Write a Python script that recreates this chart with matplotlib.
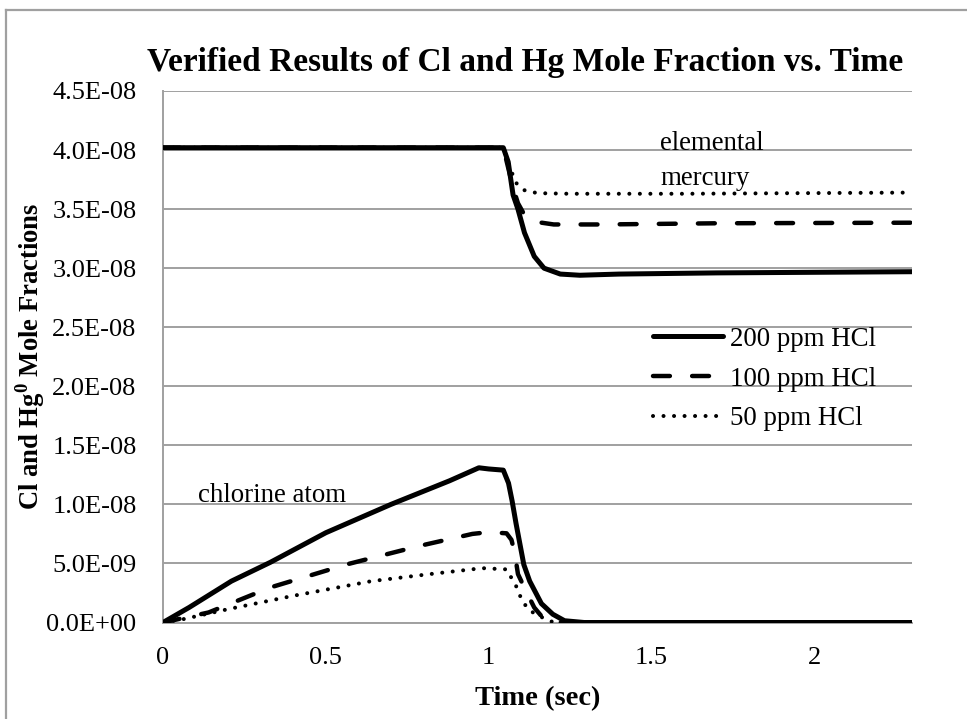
import numpy as np
import matplotlib
matplotlib.use("Agg")
import matplotlib.pyplot as plt
from matplotlib.lines import Line2D

plt.rcParams["font.family"] = ["Liberation Serif", "DejaVu Serif"]
plt.rcParams["mathtext.fontset"] = "custom"
plt.rcParams["mathtext.rm"] = "Liberation Serif"
plt.rcParams["mathtext.bf"] = "Liberation Serif:bold"

# elemental mercury, mole fraction (E-08) vs time (sec)
hg_200_t = [0, 1.045, 1.06, 1.075, 1.09, 1.11, 1.14, 1.17, 1.22, 1.28, 1.4, 1.7, 2.3]
hg_200_v = [4.02, 4.02, 3.9, 3.62, 3.5, 3.3, 3.1, 3.0, 2.95, 2.94, 2.95, 2.96, 2.97]
hg_100_t = [0, 1.045, 1.06, 1.075, 1.09, 1.11, 1.15, 1.2, 1.35, 1.7, 2.3]
hg_100_v = [4.02, 4.02, 3.85, 3.68, 3.55, 3.45, 3.39, 3.37, 3.37, 3.38, 3.385]
hg_50_t = [0, 1.045, 1.065, 1.085, 1.11, 1.15, 1.25, 1.6, 2.3]
hg_50_v = [4.02, 4.02, 3.85, 3.72, 3.66, 3.635, 3.63, 3.63, 3.64]

# chlorine atom, mole fraction (E-09) vs time (sec)
cl_200_t = [0, 0.08, 0.21, 0.33, 0.5, 0.7, 0.88, 0.97, 1.0, 1.045, 1.061, 1.072,
            1.084, 1.108, 1.126, 1.162, 1.197, 1.233, 1.293, 2.3]
cl_200_v = [0, 1.27, 3.5, 5.1, 7.6, 10.0, 12.0, 13.1, 13.0, 12.9, 11.8, 10.3,
            8.4, 4.9, 3.5, 1.6, 0.7, 0.15, 0, 0]
cl_100_t = [0, 0.14, 0.33, 0.567, 0.79, 0.95, 1.0, 1.055, 1.07, 1.08, 1.09,
            1.114, 1.14, 1.17, 1.21, 2.3]
cl_100_v = [0, 0.85, 2.97, 4.94, 6.5, 7.5, 7.65, 7.55, 7.0, 5.9, 4.1,
            2.7, 1.27, 0.28, 0, 0]
cl_50_t = [0, 0.062, 0.2, 0.4, 0.64, 0.82, 0.98, 1.055, 1.084, 1.104, 1.127,
           1.155, 1.2, 2.3]
cl_50_v = [0, 0.28, 1.13, 2.26, 3.5, 4.1, 4.6, 4.5, 3.1, 1.76, 1.0,
           0.55, 0, 0]

labels = ["200 ppm HCl", "100 ppm HCl", "50 ppm HCl"]
y_ticks = np.arange(0, 4.51e-8, 5e-9)
x_ticks = [0, 0.5, 1, 1.5, 2]

W, H = 967, 719
fig = plt.figure(figsize=(W / 100, H / 100), dpi=100)
ax = fig.add_axes([163 / W, 1 - 622.5 / H, 749 / W, 531.5 / H])

styles = [
    dict(color="black", lw=3.6, ls="-", solid_capstyle="round"),
    dict(color="black", lw=3.2, ls=(0, (3.8, 5.0)), dash_capstyle="round"),
    dict(color="black", lw=2.9, ls=(0, (0.01, 2.6)), dash_capstyle="round"),
]
hg = [(hg_200_t, hg_200_v), (hg_100_t, hg_100_v), (hg_50_t, hg_50_v)]
cl = [(cl_200_t, cl_200_v), (cl_100_t, cl_100_v), (cl_50_t, cl_50_v)]

handles = []
for (ht, hv), (ct, cv), st, lab in zip(hg, cl, styles, labels):
    h, = ax.plot(ht, np.array(hv) * 1e-8, label=lab, zorder=3, **st)
    ax.plot(ct, np.array(cv) * 1e-9, zorder=3, **st)
    handles.append(h)

ax.set_xlim(0, 2.3)
ax.set_ylim(0, 4.5e-8)
ax.set_xticks(x_ticks)
ax.set_xticklabels(["0", "0.5", "1", "1.5", "2"])
ax.set_yticks(y_ticks)
ax.set_yticklabels([f"{v / 10 ** np.floor(np.log10(v)):.1f}E-{int(-np.floor(np.log10(v))):02d}"
                    if v > 0 else "0.0E+00" for v in y_ticks])
ax.grid(axis="y", color="#a0a0a0", lw=1.4)
ax.set_axisbelow(True)
for s in ["top", "right"]:
    ax.spines[s].set_visible(False)
for s in ["left", "bottom"]:
    ax.spines[s].set_color("#a0a0a0")
    ax.spines[s].set_linewidth(1.4)
ax.tick_params(axis="both", length=0, labelsize=19)
ax.tick_params(axis="y", pad=19)
ax.tick_params(axis="x", pad=18)

ax.set_xlabel("Time (sec)", fontsize=20.5, fontweight="bold")
ax.xaxis.set_label_coords(0.5, -0.12)
ax.set_ylabel(r"Cl and Hg$^{\mathbf{0}}$ Mole Fractions", fontsize=19.2, fontweight="bold")
ax.yaxis.set_label_coords(-0.178, 0.5)
ax.yaxis.label.set_va("center")

fig.text(525 / W, 1 - 62 / H, "Verified Results of Cl and Hg Mole Fraction vs. Time",
         ha="center", va="center", fontsize=24, fontweight="bold")

ax.text(0.6636, 0.889, "elemental", transform=ax.transAxes, fontsize=19.4, va="baseline")
ax.text(0.6636, 0.823, "mercury", transform=ax.transAxes, fontsize=19.4, va="baseline")
ax.text(0.047, 0.2267, "chlorine atom", transform=ax.transAxes, fontsize=19.4, va="baseline")

ax.legend(handles=handles, loc="center left", bbox_to_anchor=(0.654, 0.458),
          frameon=False, fontsize=19.4, handlelength=2.6, handletextpad=0.27,
          labelspacing=0.55, borderpad=0, borderaxespad=0)

fig.add_artist(Line2D([6 / W, 6 / W], [0, 1 - 10 / H], color="#a0a0a0", lw=1.6,
                      transform=fig.transFigure))
fig.add_artist(Line2D([6 / W, 1], [1 - 10 / H, 1 - 10 / H], color="#a0a0a0", lw=1.6,
                      transform=fig.transFigure))

fig.savefig("out.png", dpi=100)
